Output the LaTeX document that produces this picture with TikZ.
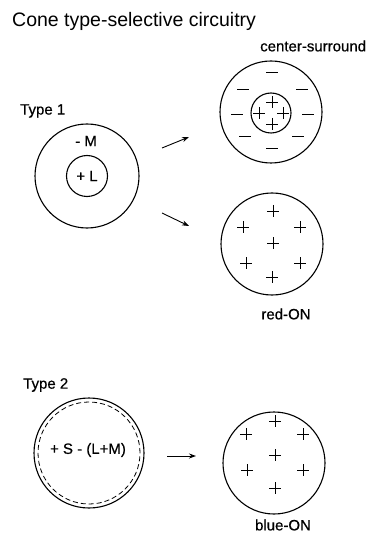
\documentclass[tikz,border=0pt]{standalone}
\usepackage{fontspec}
\setmainfont{Liberation Sans}
\newfontfamily\lblfont[FakeBold=0.6]{Liberation Sans}
\usetikzlibrary{arrows.meta}
\begin{document}
\begin{tikzpicture}[x=1pt,y=-1pt,
  ring/.style={draw, circle, line width=1.1pt, inner sep=0pt},
  sign/.style={line width=0.8pt},
  lbl/.style={font=\lblfont\fontsize{15}{17}\selectfont, inner sep=0pt},
  arr/.style={line width=0.9pt, -{Stealth[length=7pt,width=5pt]}},
  plussign/.pic={\draw[sign] (-6,0)--(6,0) (0,-6)--(0,6);},
  minussign/.pic={\draw[sign] (-6,0)--(6,0);}
]
\useasboundingbox (0,0) rectangle (366,534);
% title
\node[anchor=west, inner sep=0pt, font=\fontsize{19.5}{22}\selectfont] (title) at (12,21) {Cone type-selective circuitry};
% labels
\node[lbl, anchor=west] (t1) at (20,111) {Type 1};
\node[lbl, anchor=west] (t2) at (23,385) {Type 2};
\node[lbl, anchor=west] (csl) at (260,46) {center-surround};
\node[lbl] (redl) at (286,314) {red-ON};
\node[lbl] (bluel) at (283,525) {blue-ON};

% Type 1 receptive field
\node[ring, minimum size=104pt] (t1out) at (87,176) {};
\node[ring, minimum size=41pt] (t1in) at (87,176) {};
\node[lbl] (t1m) at (86,141) {- M};
\node[lbl] (t1l) at (87,176) {+ L};

% center-surround
\node[ring, minimum size=102pt] (csout) at (271,112) {};
\node[ring, minimum size=40pt] (csin) at (271,113) {};
\foreach \x/\y in {272/102, 259/113, 283/113, 272/124}
  \pic at (\x,\y) {plussign};
\foreach \x/\y in {272/72, 243/89, 302/89, 237/114, 308/114, 245/136, 298/136, 272/148}
  \pic at (\x,\y) {minussign};

% red-ON
\node[ring, minimum size=102pt] (red) at (272,244) {};
\foreach \x/\y in {273/211, 243/227, 300/227, 273/243, 246/263, 300/263, 272/277}
  \pic at (\x,\y) {plussign};

% Type 2
\node[ring, minimum size=110pt] (t2out) at (89,453) {};
\node[draw, circle, line width=0.8pt, dash pattern=on 5pt off 3pt, minimum size=102pt, inner sep=0pt] (t2in) at (89,453) {};
\node[lbl] (t2txt) at (88,450) {+ S - (L+M)};

% blue-ON
\node[ring, minimum size=102pt] (blue) at (274,463) {};
\foreach \x/\y in {275/421, 246/434, 303/434, 275/455, 247/470, 303/470, 275/488}
  \pic at (\x,\y) {plussign};

% arrows
\coordinate (a1s) at (162,148);
\coordinate (a1e) at (189,137);
\coordinate (a2s) at (162,213);
\coordinate (a2e) at (189,226);
\coordinate (a3s) at (167,456);
\coordinate (a3e) at (196,456);
\draw[arr] (a1s) -- (a1e);
\draw[arr] (a2s) -- (a2e);
\draw[arr] (a3s) -- (a3e);
\end{tikzpicture}
\end{document}
